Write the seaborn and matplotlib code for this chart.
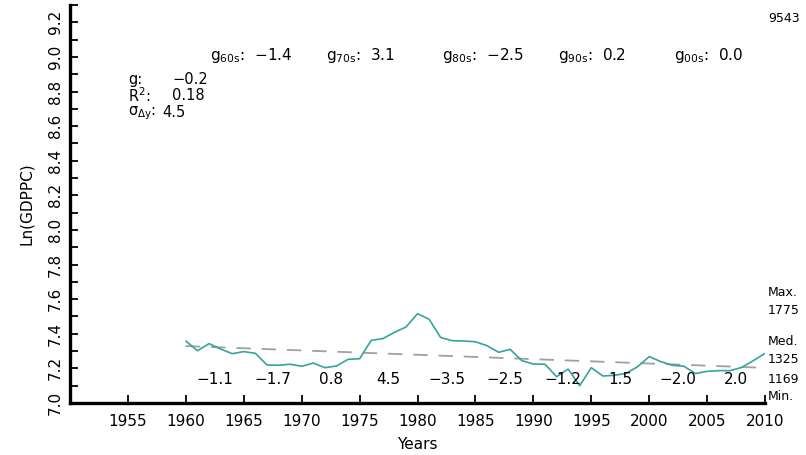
import numpy as np
import pandas as pd
import matplotlib
matplotlib.use("Agg")
import matplotlib.pyplot as plt
import seaborn as sns

# ---- data ----
years = list(range(1960, 2011))
ln_gdppc = [7.358, 7.302, 7.343, 7.312, 7.285, 7.297, 7.287, 7.220, 7.218, 7.224,
            7.212, 7.231, 7.204, 7.214, 7.252, 7.256, 7.362, 7.372, 7.408, 7.439,
            7.516, 7.484, 7.378, 7.360, 7.358, 7.354, 7.331, 7.293, 7.310, 7.245,
            7.225, 7.224, 7.152, 7.196, 7.100, 7.204, 7.156, 7.160, 7.171, 7.210,
            7.268, 7.239, 7.218, 7.212, 7.170, 7.183, 7.187, 7.187, 7.206, 7.245,
            7.287]
trend_years = [1960, 2010]
trend_values = [7.329, 7.203]

period_centers = [1962.5, 1967.5, 1972.5, 1977.5, 1982.5, 1987.5, 1992.5, 1997.5, 2002.5, 2007.5]
period_growth = ["−1.1", "−1.7", "0.8", "4.5", "−3.5", "−2.5", "−1.2", "1.5", "−2.0", "2.0"]

decade_starts = [1960, 1970, 1980, 1990, 2000]
decade_labels = ["60s", "70s", "80s", "90s", "00s"]
decade_growth = ["−1.4", "3.1", "−2.5", "0.2", "0.0"]

stats_names = [r"g:", r"R$^{2}$:", r"$\mathregular{\sigma_{\Delta y}}$:"]
stats_values = ["−0.2", "0.18", "4.5"]

right_labels = ["Max.", "1775", "Med.", "1325", "1169", "Min."]
right_label_y = [7.636, 7.532, 7.353, 7.249, 7.133, 7.035]
top_right_label = "9543"

xticks = list(range(1955, 2011, 5))
yticks = [round(7.0 + 0.2 * i, 1) for i in range(12)]
yminor = [round(7.1 + 0.2 * i, 1) for i in range(12)]

# ---- plotting ----
sns.set_style("ticks")
plt.rcParams['font.family'] = ['DejaVu Sans']
plt.rcParams['mathtext.fontset'] = 'dejavusans'
plt.rcParams['text.color'] = 'black'
plt.rcParams['axes.labelcolor'] = 'black'
plt.rcParams['xtick.color'] = 'black'
plt.rcParams['ytick.color'] = 'black'

fig = plt.figure(figsize=(8.06, 4.55), dpi=100)
ax = fig.add_axes([0.0869, 0.1143, 0.8623, 0.8747])

df = pd.DataFrame({"Years": years, "Ln(GDPPC)": ln_gdppc})
tr = pd.DataFrame({"Years": trend_years, "Ln(GDPPC)": trend_values})

sns.lineplot(data=tr, x="Years", y="Ln(GDPPC)", ax=ax, color="#a0a0a0",
             linewidth=1.3, dashes=False, linestyle=(0, (8, 6)))
sns.lineplot(data=df, x="Years", y="Ln(GDPPC)", ax=ax, color="#35a3a0", linewidth=1.2)

ax.set_xlim(1950, 2010)
ax.set_ylim(7.0, 9.3)
ax.set_xticks(xticks)
ax.set_yticks(yticks)
ax.set_yticks(yminor, minor=True)
ax.set_yticklabels([f"{v:.1f}" for v in yticks], rotation=90, va="center")
ax.tick_params(axis="both", which="both", direction="in", length=6, width=1.3,
               labelsize=11, colors="black")
ax.tick_params(axis="x", pad=8)
ax.tick_params(axis="y", pad=5)
for s in ["top", "right"]:
    ax.spines[s].set_visible(False)
for s in ["left", "bottom"]:
    ax.spines[s].set_linewidth(2.4)
    ax.spines[s].set_color("black")

ax.set_xlabel("Years", fontsize=11, labelpad=6, color="black")
ax.set_ylabel("Ln(GDPPC)", fontsize=11, labelpad=10, color="black")

# period growth rates
for xc, t in zip(period_centers, period_growth):
    ax.text(xc, 7.137, t, ha="center", va="center", fontsize=11, color="black")

# decade growth rates
for d, lab, g in zip(decade_starts, decade_labels, decade_growth):
    ax.text(d + 2.1, 9.01, r"$\mathregular{g_{" + lab + r"}}$:  " + g,
            ha="left", va="center", fontsize=11, color="black")

# stats block
stats_y = [8.867, 8.775, 8.676]
stats_vx = [1958.8, 1958.8, 1958.0]
for name, val, yy, vx in zip(stats_names, stats_values, stats_y, stats_vx):
    ax.text(1955.0, yy, name, ha="left", va="center", fontsize=10.5, color="black")
    ax.text(vx, yy, val, ha="left", va="center", fontsize=10.5, color="black")

# right margin labels
for lab, yy in zip(right_labels, right_label_y):
    ax.text(2010.25, yy, lab, ha="left", va="center", fontsize=9, clip_on=False,
            color="black")
ax.text(2010.25, 9.22, top_right_label, ha="left", va="center", fontsize=9,
        clip_on=False, color="black")

fig.savefig("out.png", dpi=100)
